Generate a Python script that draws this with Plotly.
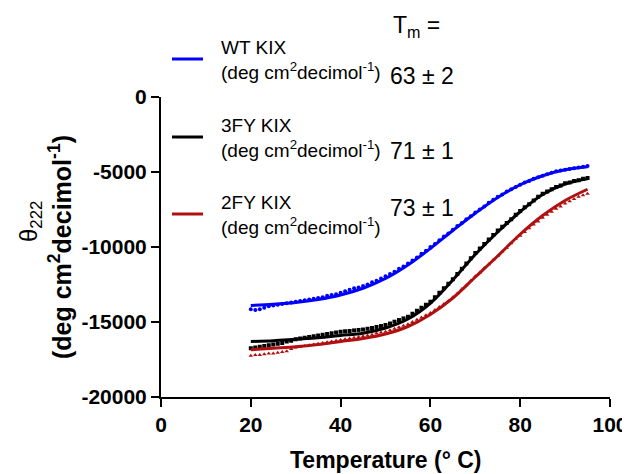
import plotly.graph_objects as go

# ---------------- data ----------------
temps = list(range(20, 96))

wt_points = [-14150, -14200, -14150, -14050, -13950, -13900, -13850, -13800, -13750, -13700,
             -13650, -13600, -13550, -13500, -13450, -13400, -13350, -13250, -13200, -13150,
             -13050, -12950, -12850, -12750, -12700, -12600, -12500, -12350, -12250, -12100,
             -11950, -11800, -11650, -11450, -11300, -11100, -10900, -10700, -10450, -10250,
             -10000, -9800, -9550, -9300, -9100, -8850, -8600, -8400, -8150, -7950,
             -7700, -7500, -7300, -7050, -6850, -6650, -6500, -6300, -6150, -6000,
             -5850, -5700, -5600, -5450, -5350, -5250, -5150, -5050, -4950, -4900,
             -4850, -4800, -4750, -4700, -4650, -4600]

fy3_points = [-16750, -16700, -16650, -16600, -16550, -16500, -16450, -16400, -16300, -16250,
              -16150, -16100, -16050, -16000, -15950, -15900, -15850, -15800, -15750, -15700,
              -15650, -15620, -15600, -15560, -15530, -15500, -15450, -15400, -15330, -15270,
              -15200, -15100, -14980, -14870, -14760, -14650, -14450, -14250, -14050, -13850,
              -13650, -13350, -13050, -12750, -12450, -12150, -11800, -11450, -11100, -10750,
              -10400, -10100, -9800, -9500, -9200, -8900, -8650, -8400, -8150, -7850,
              -7600, -7350, -7150, -6900, -6650, -6450, -6300, -6150, -6000, -5900,
              -5750, -5700, -5600, -5550, -5450, -5400]

fy2_points = [-17250, -17200, -17200, -17150, -17100, -17100, -17050, -17000, -16950, -16800,
              -16700, -16650, -16600, -16550, -16500, -16450, -16400, -16350, -16300, -16250,
              -16200, -16150, -16100, -16050, -16000, -15950, -15900, -15850, -15750, -15700,
              -15650, -15550, -15450, -15350, -15250, -15150, -15000, -14850, -14700, -14550,
              -14400, -14200, -14000, -13800, -13600, -13350, -13100, -12800, -12550, -12250,
              -11950, -11700, -11400, -11150, -10850, -10600, -10300, -10050, -9750, -9450,
              -9250, -9000, -8750, -8500, -8300, -8050, -7850, -7650, -7450, -7300,
              -7100, -6950, -6800, -6650, -6550, -6450]

fit_temps = [20, 25, 30, 35, 40, 45, 50, 55, 60, 65, 70, 75, 80, 85, 90, 95]
wt_fit = [-13900, -13820, -13700, -13500, -13200, -12750, -12100, -11200,
          -10100, -8900, -7750, -6700, -5850, -5250, -4850, -4650]
fy3_fit = [-16300, -16250, -16150, -16050, -15900, -15750, -15400, -14800,
           -13750, -12200, -10500, -9000, -7650, -6500, -5800, -5450]
fy2_fit = [-16850, -16750, -16650, -16500, -16300, -16100, -15800, -15300,
           -14500, -13400, -12000, -10600, -9150, -7900, -6900, -6150]

series_names = ["WT KIX", "3FY KIX", "2FY KIX"]
tm_labels = ["63 ± 2", "71 ± 1", "73 ± 1"]
unit_label = "(deg cm<sup>2</sup>decimol<sup>-1</sup>)"

x_ticks = [0, 20, 40, 60, 80, 100]
x_ticktext = ["0", "20", "40", "60", "80", "100"]
y_ticks = [0, -5000, -10000, -15000, -20000]
y_ticktext = ["0", "-5000", "-10000", "-15000", "-20000"]

# ---------------- style ----------------
BLUE = "#0000FF"
BLACK = "#000000"
RED = "#B01010"
FONT = "Arial, Liberation Sans, sans-serif"

OFF = 8  # default page body margin
PAGE_W, PAGE_H = 630, 474
PLOT_L, PLOT_R, PLOT_T, PLOT_B = 161, 610, 97, 397  # plot area in page pixels
W, H = PAGE_W - OFF, PAGE_H - OFF
ML, MT = PLOT_L - OFF, PLOT_T - OFF
MR, MB = PAGE_W - PLOT_R, PAGE_H - PLOT_B
PW, PH = PLOT_R - PLOT_L, PLOT_B - PLOT_T


def px_x(px):
    return (px - PLOT_L) / PW


def px_y(py):
    return (PLOT_B - py) / PH


fig = go.Figure()

point_sets = [(wt_points, BLUE, "circle"), (fy3_points, BLACK, "square"), (fy2_points, RED, "triangle-up")]
for vals, col, sym in point_sets:
    fig.add_trace(go.Scatter(x=temps, y=vals, mode="markers",
                             marker=dict(color=col, size=4, symbol=sym, line=dict(width=0)),
                             showlegend=False, hoverinfo="skip"))

for vals, col in [(wt_fit, BLUE), (fy3_fit, BLACK), (fy2_fit, RED)]:
    fig.add_trace(go.Scatter(x=fit_temps, y=vals, mode="lines",
                             line=dict(color=col, width=3, shape="spline", smoothing=1.0),
                             showlegend=False, hoverinfo="skip"))

fig.update_layout(
    width=W, height=H,
    margin=dict(l=ML, r=MR, t=MT, b=MB, pad=0, autoexpand=False),
    paper_bgcolor="white", plot_bgcolor="white",
    font=dict(family=FONT, color="black"),
    showlegend=False,
    xaxis=dict(range=[0, 100], showgrid=False, zeroline=False, showline=True,
               linecolor="black", linewidth=2, ticks="outside", ticklen=8,
               tickwidth=2, tickcolor="black", tickvals=x_ticks, ticktext=x_ticktext,
               tickfont=dict(family=FONT, size=21, color="black", weight="bold")),
    yaxis=dict(range=[-20000, 0], showgrid=False, zeroline=False, showline=True,
               linecolor="black", linewidth=2, ticks="outside", ticklen=8,
               tickwidth=2, tickcolor="black", tickvals=y_ticks, ticktext=y_ticktext,
               tickfont=dict(family=FONT, size=21, color="black", weight="bold")),
)

annotations = []
# axis titles
annotations.append(dict(text="<b>Temperature (° C)</b>", x=0.5, y=px_y(460), xref="paper", yref="paper",
                        xanchor="center", yanchor="middle", showarrow=False,
                        font=dict(family=FONT, size=23, color="black")))
annotations.append(dict(text="θ<sub>222</sub>", x=px_x(30), y=px_y(222), xref="paper", yref="paper",
                        xanchor="center", yanchor="middle", showarrow=False, textangle=-90,
                        font=dict(family=FONT, size=24, color="black")))
annotations.append(dict(text="<b>" + unit_label + "</b>", x=px_x(60), y=px_y(247), xref="paper", yref="paper",
                        xanchor="center", yanchor="middle", showarrow=False, textangle=-90,
                        font=dict(family=FONT, size=25, color="black")))

# legend
legend_rows = [(BLUE, 59, 60, 76), (BLACK, 137, 138, 151), (RED, 214, 215, 208)]
shapes = []
for (col, ly, ty, tmy), name, tm in zip(legend_rows, series_names, tm_labels):
    shapes.append(dict(type="line", xref="paper", yref="paper",
                       x0=px_x(172), x1=px_x(203), y0=px_y(ly), y1=px_y(ly),
                       line=dict(color=col, width=3)))
    annotations.append(dict(text=name + "<br>" + unit_label, x=px_x(219), y=px_y(ty),
                            xref="paper", yref="paper", xanchor="left", yanchor="middle",
                            align="left", showarrow=False,
                            font=dict(family=FONT, size=19, color="black")))
    annotations.append(dict(text=tm, x=px_x(388), y=px_y(tmy), xref="paper", yref="paper",
                            xanchor="left", yanchor="middle", showarrow=False,
                            font=dict(family=FONT, size=23, color="black")))

annotations.append(dict(text="T<sub>m</sub> =", x=px_x(391), y=px_y(27), xref="paper", yref="paper",
                        xanchor="left", yanchor="middle", showarrow=False,
                        font=dict(family=FONT, size=23, color="black")))

fig.update_layout(annotations=annotations, shapes=shapes)

fig.write_html("out.html")
